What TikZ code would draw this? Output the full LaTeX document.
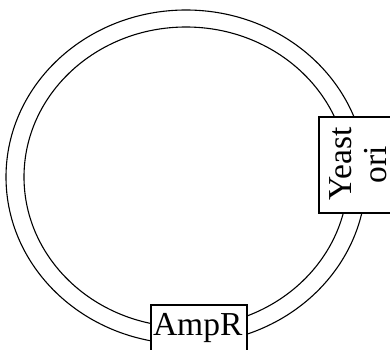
\documentclass[tikz,border=0pt]{standalone}
\usepackage{fontspec}
\setmainfont{Liberation Serif}
\begin{document}
\begin{tikzpicture}[x=1pt,y=1pt,line width=1.1pt,
  part/.style={draw,fill=white,line width=1.1pt,inner sep=0pt},
  lbl/.style={font=\fontsize{33.5}{36}\selectfont,inner sep=0pt}]
\useasboundingbox (0,0) rectangle (390,349);
\draw (186,172) ellipse [x radius=180, y radius=167];
\draw (186,172) ellipse [x radius=162, y radius=150];
\node[part,minimum width=81pt,minimum height=96pt] (yeast) at (359.5,184) {};
\node[lbl,rotate=90,anchor=base] (yeastA) at (351,185) {Yeast};
\node[lbl,rotate=90,anchor=base] (yeastB) at (386,184) {ori};
\node[part,minimum width=96pt,minimum height=65pt] (ampr) at (199,11.5) {};
\node[lbl,anchor=base west] (amprlbl) at (152.5,14) {AmpR};
\end{tikzpicture}
\end{document}
